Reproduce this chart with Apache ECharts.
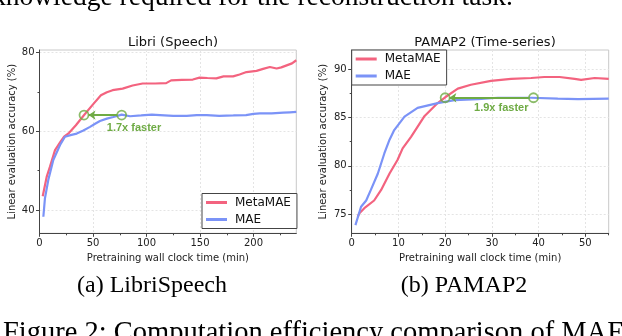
<!DOCTYPE html>
<html>
<head>
<meta charset="utf-8">
<script src="https://cdn.jsdelivr.net/npm/echarts@6/dist/echarts.min.js"></script>
<style>
html, body { margin: 0; padding: 0; background: #fff; }
#chart { width: 622px; height: 336px; }
</style>
</head>
<body>
<div id="chart"></div>
<script>
// LibriSpeech curves: [minutes, accuracy]
var libriMeta = [[3,43.5],[6.7,48.4],[9.8,51],[14.5,55.2],[20,57.5],[23,58.6],[27.7,59.6],[34,61.5],
  [41.7,64.1],[50,66.8],[57.4,69.1],[63,69.9],[68.3,70.4],[77.7,70.8],[87,71.6],[96.4,72.1],[108,72.1],
  [118.4,72.2],[123,72.9],[133,73.0],[143.3,73.1],[149.6,73.6],[157,73.5],[165.3,73.4],[172,73.9],
  [180.9,73.9],[187,74.4],[193.4,75.0],[202.8,75.3],[209,75.8],[215.3,76.3],[221.6,75.9],[226,76.2],
  [231,76.7],[236,77.2],[240,78.0]];
var libriMae = [[3.6,38.3],[5.1,43],[8.2,47.6],[12.9,52.7],[19.2,56.5],[23.8,58.6],[29,59.0],[34.8,59.4],
  [41,60.2],[47.2,61.1],[52,61.9],[56.5,62.6],[63,63.2],[69,63.6],[76.8,64.2],[84.6,63.8],[95,64.0],
  [105,64.2],[112.6,64.1],[125,63.9],[137.6,63.9],[147,64.1],[156.3,64.1],[168,63.9],[181.2,64.0],
  [193,64.1],[200,64.4],[206,64.5],[217,64.5],[227.9,64.7],[234,64.8],[240,64.9]];

// PAMAP2 curves
var pamapMeta = [[1.3,74.7],[1.6,75.06],[2.7,75.6],[4.8,76.4],[6.3,77.5],[8.1,79.2],[9.8,80.6],[10.9,81.8],
  [12.7,83.0],[15.5,85.1],[18.4,86.5],[20,87.1],[22.7,88.0],[25.5,88.4],[29.8,88.8],[34.1,89.0],
  [38.4,89.1],[41.2,89.2],[44.5,89.2],[47.7,89.0],[49.1,88.9],[52,89.1],[55,89.0]];
var pamapMae = [[0.8,73.85],[2.0,75.75],[3.1,76.4],[4.1,77.5],[5.6,79.2],[7.0,81.3],[8.1,82.7],[9.1,83.7],
  [11.3,85.1],[14.1,86.0],[18.4,86.5],[22.0,86.8],[27,86.9],[31.3,87.05],[38.4,87.05],[44.1,86.95],
  [48.4,86.9],[55,86.95]];

// speed-up annotations
var libriMarks = [[41.6,64.1],[76.8,64.1]];
var libriArrow = [[72.5,64.1],[45.8,64.1]];
var libriNote = [88.3,60.9];
var pamapMarks = [[20.0,87.05],[38.9,87.05]];
var pamapArrow = [[37.9,87.05],[20.9,87.05]];
var pamapNote = [32.0,85.95];

// ticks
var libriXTicks = [0,50,100,150,200];
var libriXMinor = [25,75,125,175,225];
var libriYTicks = [40,60,80];
var libriYMinor = [50,70];
var pamapXTicks = [0,10,20,30,40,50];
var pamapXMinor = [5,15,25,35,45,55];
var pamapYTicks = [75,80,85,90];
var pamapYMinor = [77.5,82.5,87.5];

var RED = '#f3637f', BLUE = '#7b93f7', GREEN = '#6fab45';
var FONT = 'DejaVu Sans';
var SERIF = 'Liberation Serif';

var chart = echarts.init(document.getElementById('chart'), null, { renderer: 'canvas' });

function mainX(grid, min, max, ticks) {
  return {
    type: 'value', gridIndex: grid, min: min, max: max, position: 'bottom',
    name: 'Pretraining wall clock time (min)', nameLocation: 'middle', nameGap: 17,
    nameTextStyle: { fontFamily: FONT, fontSize: 10, color: '#222' },
    axisLine: { show: true, lineStyle: { color: '#444', width: 1 } },
    axisTick: { show: true, length: 3.5, customValues: ticks, lineStyle: { color: '#444' } },
    axisLabel: { customValues: ticks, margin: 5, fontFamily: FONT, fontSize: 10, color: '#222' },
    splitLine: { show: true, lineStyle: { color: '#e4e4e4', width: 1, type: [2, 2] } }
  };
}
function minorX(grid, min, max, ticks) {
  return {
    type: 'value', gridIndex: grid, min: min, max: max, position: 'bottom',
    axisLine: { show: false },
    axisTick: { show: true, length: 2, customValues: ticks, lineStyle: { color: '#444' } },
    axisLabel: { show: false }, splitLine: { show: false }
  };
}
function mainY(grid, min, max, ticks, gap) {
  return {
    type: 'value', gridIndex: grid, min: min, max: max, position: 'left',
    name: 'Linear evaluation accuracy (%)', nameLocation: 'middle', nameGap: gap,
    nameTextStyle: { fontFamily: FONT, fontSize: 10, color: '#222' },
    axisLine: { show: true, lineStyle: { color: '#444', width: 1 } },
    axisTick: { show: true, length: 3.5, customValues: ticks, lineStyle: { color: '#444' } },
    axisLabel: { customValues: ticks, margin: 5, fontFamily: FONT, fontSize: 10, color: '#222' },
    splitLine: { show: true, lineStyle: { color: '#e4e4e4', width: 1, type: [2, 2] } }
  };
}
function minorY(grid, min, max, ticks) {
  return {
    type: 'value', gridIndex: grid, min: min, max: max, position: 'left',
    axisLine: { show: false },
    axisTick: { show: true, length: 2, customValues: ticks, lineStyle: { color: '#444' } },
    axisLabel: { show: false }, splitLine: { show: false }
  };
}
function curve(name, data, color, idx) {
  return {
    name: name, type: 'line', data: data, xAxisIndex: idx, yAxisIndex: idx,
    color: color, showSymbol: false, symbol: 'none', smooth: false,
    lineStyle: { color: color, width: 2.2 }, z: 3
  };
}
function note(marks, arrow, pos, text, idx) {
  return {
    type: 'scatter', data: marks, xAxisIndex: idx, yAxisIndex: idx,
    symbol: 'circle', symbolSize: 9, z: 5, silent: true,
    itemStyle: { color: 'rgba(0,0,0,0)', borderColor: GREEN, borderWidth: 1.8 },
    markLine: {
      silent: true, symbol: ['none', 'arrow'], symbolSize: 7, animation: false,
      lineStyle: { color: GREEN, width: 2, type: 'solid' }, label: { show: false },
      data: [[{ coord: arrow[0] }, { coord: arrow[1] }]]
    },
    markPoint: {
      silent: true, symbol: 'circle', symbolSize: 1, animation: false,
      itemStyle: { color: 'rgba(0,0,0,0)' },
      label: { show: true, position: 'inside', formatter: text, color: GREEN,
        fontFamily: 'Liberation Sans', fontWeight: 'bold', fontSize: 11 },
      data: [{ coord: pos }]
    }
  };
}

chart.setOption({
  animation: false,
  backgroundColor: '#fff',
  title: [
    { text: 'Libri (Speech)', left: 168, top: 31, textAlign: 'center',
      textStyle: { fontFamily: FONT, fontSize: 13, fontWeight: 'normal', color: '#111' } },
    { text: 'PAMAP2 (Time-series)', left: 480, top: 31, textAlign: 'center',
      textStyle: { fontFamily: FONT, fontSize: 13, fontWeight: 'normal', color: '#111' } }
  ],
  grid: [
    { left: 39.5, top: 50, width: 256.8, height: 183.3, show: true, borderColor: '#c8c8c8', borderWidth: 1 },
    { left: 351.7, top: 50, width: 257, height: 183.3, show: true, borderColor: '#c8c8c8', borderWidth: 1 }
  ],
  legend: [
    { data: ['MetaMAE', 'MAE'], orient: 'vertical', left: 202, top: 193.5, itemGap: 5,
      icon: 'rect', itemWidth: 21, itemHeight: 3, padding: [3, 6, 3, 4],
      backgroundColor: '#fff', borderColor: '#444', borderWidth: 1, borderRadius: 0,
      textStyle: { fontFamily: FONT, fontSize: 12, color: '#111', padding: [0, 0, 0, 3] } },
    { data: ['MetaMAE', 'MAE'], orient: 'vertical', left: 351.7, top: 50, itemGap: 5,
      icon: 'rect', itemWidth: 21, itemHeight: 3, padding: [3, 6, 3, 4],
      backgroundColor: '#fff', borderColor: '#444', borderWidth: 1, borderRadius: 0,
      textStyle: { fontFamily: FONT, fontSize: 12, color: '#111', padding: [0, 0, 0, 3] } }
  ],
  xAxis: [
    mainX(0, 0, 240, libriXTicks),
    mainX(1, 0, 55, pamapXTicks),
    minorX(0, 0, 240, libriXMinor),
    minorX(1, 0, 55, pamapXMinor)
  ],
  yAxis: [
    mainY(0, 34.1, 80.6, libriYTicks, 22),
    mainY(1, 73.0, 92.0, pamapYTicks, 23),
    minorY(0, 34.1, 80.6, libriYMinor),
    minorY(1, 73.0, 92.0, pamapYMinor)
  ],
  series: [
    curve('MetaMAE', libriMeta, RED, 0),
    curve('MAE', libriMae, BLUE, 0),
    curve('MetaMAE', pamapMeta, RED, 1),
    curve('MAE', pamapMae, BLUE, 1),
    note(libriMarks, libriArrow, libriNote, '1.7x faster', 0),
    note(pamapMarks, pamapArrow, pamapNote, '1.9x faster', 1)
  ],
  graphic: [
    { type: 'text', x: -8, y: -2,
      style: { text: 'knowledge required for the reconstruction task.', font: '27.5px "' + SERIF + '"', fill: '#000', align: 'left', verticalAlign: 'middle' } },
    { type: 'text', x: 152, y: 286,
      style: { text: '(a) LibriSpeech', font: '24px "' + SERIF + '"', fill: '#000', align: 'center', verticalAlign: 'middle' } },
    { type: 'text', x: 464, y: 286,
      style: { text: '(b) PAMAP2', font: '24px "' + SERIF + '"', fill: '#000', align: 'center', verticalAlign: 'middle' } },
    { type: 'text', x: 3, y: 334,
      style: { text: 'Figure 2: Computation efficiency comparison of MAE', font: '28.5px "' + SERIF + '"', fill: '#000', align: 'left', verticalAlign: 'middle' } }
  ]
});
</script>
</body>
</html>
